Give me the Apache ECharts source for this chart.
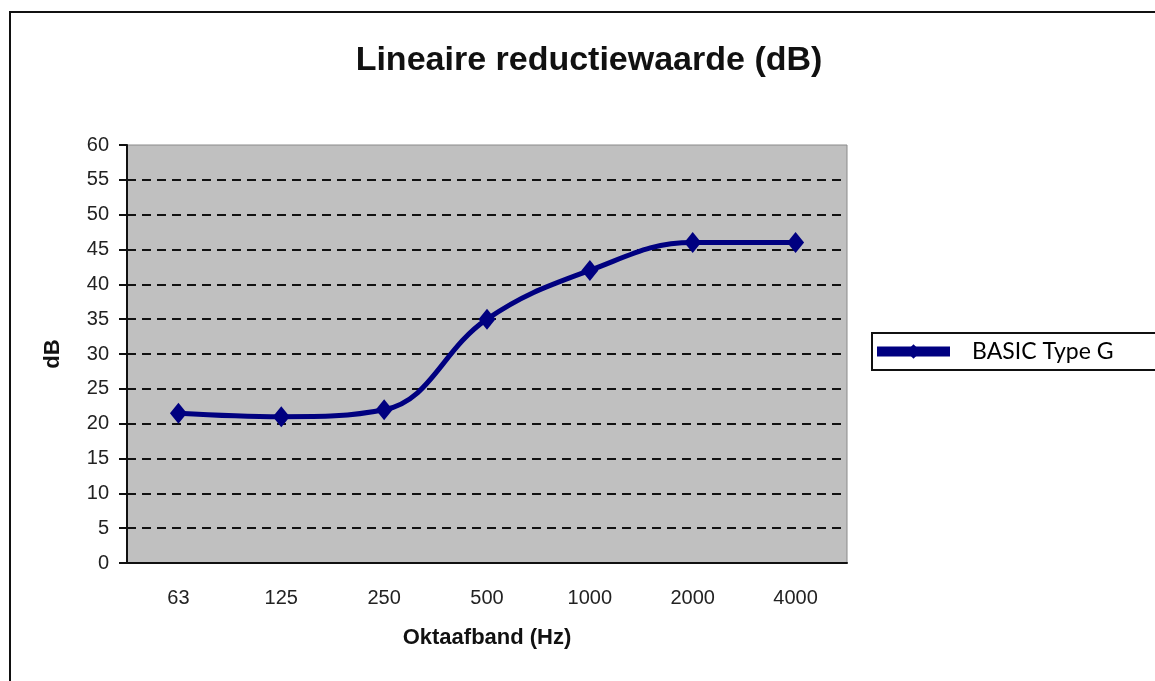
<!DOCTYPE html>
<html>
<head>
<meta charset="utf-8">
<script src="https://cdn.jsdelivr.net/npm/echarts@6/dist/echarts.min.js"></script>
<style>
  html, body { margin: 0; padding: 0; background: #fff; }
  #chart { width: 1155px; height: 681px; }
</style>
</head>
<body>
<div id="chart"></div>
<script>
// octave bands and reduction values (dB)
const bands = ['63', '125', '250', '500', '1000', '2000', '4000']
const basicTypeG = [21.5, 21, 22, 35, 42, 46, 46]

const chart = echarts.init(document.getElementById('chart'))

chart.setOption({
  animation: false,
  backgroundColor: '#fff',
  title: {
    text: 'Lineaire reductiewaarde (dB)',
    left: 584,
    textAlign: 'center',
    top: 39,
    textStyle: {
      fontFamily: 'Liberation Sans',
      fontSize: 34,
      fontWeight: 'bold',
      color: '#111'
    }
  },
  graphic: [{
    type: 'rect',
    shape: { x: 10, y: 12, width: 1300, height: 800 },
    style: { fill: 'none', stroke: '#111', lineWidth: 2 },
    silent: true,
    z: -1
  }],
  legend: {
    left: 872,
    top: 333,
    orient: 'vertical',
    padding: [7, 200, 7, 0],
    borderColor: '#111',
    borderWidth: 2,
    backgroundColor: '#fff',
    itemWidth: 73,
    itemHeight: 18,
    lineStyle: { width: 10 },
    textStyle: {
      fontFamily: 'Lato',
      fontSize: 23,
      color: '#000',
      padding: [0, 0, 0, 17]
    },
    data: ['BASIC Type G']
  },
  grid: {
    left: 127,
    right: 308,
    top: 145,
    bottom: 118,
    show: true,
    backgroundColor: '#C0C0C0',
    borderColor: '#8a8a8a',
    borderWidth: 1
  },
  xAxis: [{
    type: 'category',
    data: bands,
    name: 'Oktaafband (Hz)',
    nameLocation: 'middle',
    nameGap: 64,
    nameTextStyle: {
      fontFamily: 'Liberation Sans',
      fontSize: 22,
      fontWeight: 'bold',
      color: '#111'
    },
    axisLine: { lineStyle: { color: '#111', width: 2 } },
    axisTick: { length: 7, lineStyle: { color: '#111', width: 2 } },
    axisLabel: {
      margin: 25,
      fontFamily: 'Liberation Sans',
      fontSize: 20,
      color: '#222'
    }
  }, {
    type: 'category',
    data: bands,
    position: 'bottom',
    axisLine: { show: false },
    axisTick: {
      inside: true,
      alignWithLabel: true,
      length: 9,
      lineStyle: { color: '#111', width: 2 }
    },
    axisLabel: { show: false }
  }],
  yAxis: {
    type: 'value',
    min: 0,
    max: 60,
    interval: 5,
    name: 'dB',
    nameLocation: 'middle',
    nameGap: 63,
    nameTextStyle: {
      fontFamily: 'Liberation Sans',
      fontSize: 22,
      fontWeight: 'bold',
      color: '#111'
    },
    axisLine: { show: true, lineStyle: { color: '#111', width: 2 } },
    axisTick: { show: true, length: 8, lineStyle: { color: '#111', width: 2 } },
    axisLabel: {
      margin: 18,
      fontFamily: 'Liberation Sans',
      fontSize: 20,
      color: '#222'
    },
    splitLine: {
      showMaxLine: false,
      lineStyle: { color: '#111', width: 2, type: [9, 6] }
    }
  },
  series: [{
    name: 'BASIC Type G',
    type: 'line',
    data: basicTypeG,
    smooth: 0.4,
    symbol: 'diamond',
    symbolSize: [17, 21],
    itemStyle: { color: '#000080' },
    lineStyle: { color: '#000080', width: 5 }
  }]
})
</script>
</body>
</html>
